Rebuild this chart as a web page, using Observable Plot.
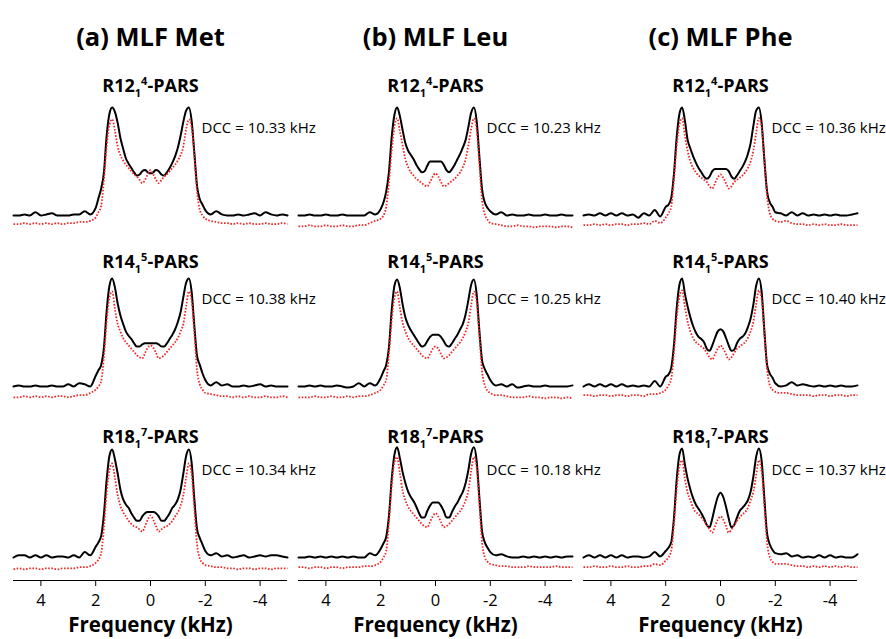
<!DOCTYPE html>
<html><head><meta charset="utf-8">
<script src="https://cdn.jsdelivr.net/npm/d3@7"></script>
<script src="https://cdn.jsdelivr.net/npm/@observablehq/plot@0.6"></script>
<style>body{margin:0;background:#fff}</style>
</head><body><div id="chart"></div>
<script>
// frequency grid (kHz)
const freq = [5.0,4.8,4.6,4.4,4.2,4.0,3.8,3.6,3.4,3.2,3.0,2.8,2.6,2.4,2.2,
  2.0,1.9,1.8,1.7,1.6,1.5,1.4,1.3,1.2,1.1,1.0,0.9,0.8,0.7,0.6,0.5,0.4,0.3,0.2,0.1,0.0,
  -0.1,-0.2,-0.3,-0.4,-0.5,-0.6,-0.7,-0.8,-0.9,-1.0,-1.1,-1.2,-1.3,-1.4,-1.5,-1.6,-1.7,-1.8,-1.9,-2.0,
  -2.2,-2.4,-2.6,-2.8,-3.0,-3.2,-3.4,-3.6,-3.8,-4.0,-4.2,-4.4,-4.6,-4.8,-5.0];

const columns = ["a","b","c"];
const columnTitles = ["(a) MLF Met","(b) MLF Leu","(c) MLF Phe"];
const rows = ["R12","R14","R18"];
const sequenceLabels = ["R12_1^4-PARS","R14_1^5-PARS","R18_1^7-PARS"];
const dccMet = [10.33,10.38,10.34];
const dccLeu = [10.23,10.25,10.18];
const dccPhe = [10.36,10.40,10.37];
const tickValues = [4,2,0,-2,-4];
const xLabel = "Frequency (kHz)";

// (a) MLF Met
const metR12Exp = [0.00,0.00,0.01,0.00,0.03,0.00,0.01,0.02,0.00,0.00,0.00,0.01,0.01,0.04,0.01,
  0.07,0.16,0.25,0.40,0.74,0.94,1.00,0.96,0.86,0.72,0.62,0.53,0.48,0.44,0.40,0.37,0.38,0.41,0.42,0.40,0.39,
  0.40,0.42,0.41,0.38,0.37,0.40,0.44,0.49,0.55,0.63,0.74,0.87,0.97,1.00,0.88,0.58,0.27,0.15,0.10,0.05,
  0.01,0.04,0.01,0.00,0.00,0.01,0.00,0.01,0.02,0.00,0.03,0.01,0.00,0.01,0.00];
const metR12Sim = [-0.08,-0.08,-0.07,-0.08,-0.07,-0.08,-0.07,-0.08,-0.07,-0.08,-0.07,-0.07,-0.06,-0.06,-0.05,
  -0.02,0.03,0.09,0.33,0.64,0.84,0.89,0.79,0.64,0.56,0.51,0.47,0.44,0.41,0.38,0.36,0.33,0.30,0.33,0.38,0.42,
  0.38,0.33,0.30,0.33,0.36,0.38,0.41,0.44,0.47,0.51,0.56,0.64,0.80,0.89,0.82,0.55,0.22,0.05,0.00,-0.03,
  -0.05,-0.06,-0.07,-0.07,-0.08,-0.07,-0.08,-0.07,-0.08,-0.08,-0.07,-0.08,-0.08,-0.07,-0.08];
const metR14Exp = [0.00,0.01,0.00,0.00,0.01,0.00,0.00,0.01,0.00,0.00,0.02,0.00,0.03,0.02,0.00,
  0.10,0.15,0.20,0.36,0.70,0.93,1.00,0.92,0.77,0.66,0.58,0.51,0.47,0.44,0.40,0.37,0.37,0.39,0.40,0.40,0.40,
  0.40,0.40,0.39,0.37,0.37,0.40,0.44,0.48,0.53,0.60,0.69,0.83,0.96,1.00,0.88,0.56,0.28,0.20,0.12,0.06,
  0.01,0.04,0.01,0.02,0.00,0.00,0.01,0.00,0.01,0.02,0.00,0.01,0.00,0.00,0.00];
const metR14Sim = [-0.10,-0.10,-0.09,-0.10,-0.09,-0.10,-0.09,-0.10,-0.09,-0.09,-0.10,-0.09,-0.08,-0.08,-0.06,
  -0.03,0.00,0.05,0.28,0.60,0.82,0.88,0.72,0.58,0.51,0.45,0.41,0.38,0.35,0.32,0.29,0.27,0.26,0.31,0.36,0.38,
  0.36,0.31,0.26,0.27,0.29,0.32,0.35,0.38,0.41,0.45,0.51,0.58,0.74,0.88,0.80,0.50,0.15,0.02,-0.03,-0.06,
  -0.07,-0.08,-0.09,-0.09,-0.10,-0.09,-0.10,-0.09,-0.10,-0.10,-0.09,-0.10,-0.10,-0.09,-0.10];
const metR18Exp = [0.00,0.02,0.02,0.00,0.02,0.00,0.02,0.00,0.01,0.01,0.00,0.02,0.00,0.05,0.02,
  0.10,0.14,0.20,0.40,0.72,0.94,1.00,0.91,0.78,0.63,0.54,0.49,0.46,0.41,0.37,0.34,0.34,0.38,0.41,0.42,0.42,
  0.42,0.41,0.38,0.34,0.34,0.37,0.41,0.46,0.49,0.54,0.63,0.78,0.94,1.00,0.88,0.54,0.26,0.18,0.12,0.06,
  0.02,0.04,0.01,0.02,0.00,0.01,0.02,0.00,0.01,0.02,0.01,0.02,0.02,0.01,0.00];
const metR18Sim = [-0.11,-0.10,-0.11,-0.10,-0.10,-0.11,-0.10,-0.10,-0.11,-0.10,-0.10,-0.10,-0.09,-0.09,-0.08,
  -0.05,-0.02,0.04,0.28,0.60,0.81,0.87,0.74,0.58,0.48,0.42,0.38,0.34,0.31,0.29,0.28,0.26,0.24,0.29,0.35,0.39,
  0.35,0.29,0.24,0.26,0.28,0.29,0.31,0.34,0.38,0.42,0.48,0.58,0.74,0.87,0.78,0.45,0.12,-0.01,-0.05,-0.07,
  -0.08,-0.09,-0.09,-0.10,-0.10,-0.11,-0.10,-0.10,-0.11,-0.10,-0.10,-0.11,-0.10,-0.10,-0.10];

// (b) MLF Leu
const leuR12Exp = [0.00,0.00,0.01,0.00,0.00,0.01,0.00,0.00,0.01,0.00,0.00,0.00,0.00,0.03,0.01,
  0.06,0.12,0.22,0.40,0.72,0.93,1.00,0.92,0.79,0.67,0.60,0.56,0.52,0.47,0.43,0.40,0.41,0.46,0.50,0.50,0.50,
  0.50,0.50,0.47,0.42,0.40,0.43,0.47,0.52,0.57,0.63,0.70,0.82,0.95,1.00,0.88,0.55,0.24,0.12,0.07,0.04,
  0.01,0.03,0.00,0.01,0.00,0.00,0.01,0.00,0.00,0.01,0.00,0.00,0.01,0.00,0.00];
const leuR12Sim = [-0.10,-0.10,-0.09,-0.10,-0.10,-0.09,-0.10,-0.10,-0.09,-0.10,-0.10,-0.09,-0.09,-0.07,-0.05,
  -0.03,0.00,0.08,0.30,0.60,0.82,0.90,0.78,0.65,0.52,0.45,0.40,0.37,0.34,0.32,0.30,0.28,0.27,0.31,0.36,0.39,
  0.36,0.31,0.27,0.28,0.30,0.32,0.34,0.37,0.40,0.45,0.52,0.65,0.80,0.90,0.80,0.48,0.14,0.01,-0.04,-0.07,
  -0.08,-0.09,-0.10,-0.10,-0.09,-0.10,-0.10,-0.11,-0.10,-0.10,-0.10,-0.11,-0.10,-0.10,-0.11];
const leuR14Exp = [0.00,0.00,0.01,0.00,0.01,0.00,0.00,0.01,0.00,-0.01,0.00,0.03,0.00,0.03,0.01,
  0.08,0.14,0.20,0.36,0.70,0.93,0.99,0.91,0.76,0.64,0.57,0.52,0.48,0.44,0.40,0.37,0.38,0.42,0.46,0.48,0.48,
  0.48,0.46,0.42,0.38,0.37,0.40,0.44,0.48,0.53,0.58,0.67,0.80,0.94,0.99,0.86,0.52,0.24,0.16,0.11,0.06,
  0.01,0.02,0.00,0.02,-0.01,0.00,0.01,0.00,0.00,0.01,0.00,0.00,0.00,0.00,0.01];
const leuR14Sim = [-0.10,-0.10,-0.10,-0.09,-0.10,-0.10,-0.09,-0.10,-0.10,-0.09,-0.10,-0.09,-0.09,-0.08,-0.06,
  -0.03,0.01,0.06,0.30,0.61,0.82,0.88,0.73,0.59,0.51,0.45,0.41,0.38,0.35,0.32,0.29,0.27,0.26,0.30,0.35,0.37,
  0.35,0.30,0.26,0.27,0.29,0.32,0.35,0.38,0.41,0.45,0.51,0.59,0.75,0.88,0.79,0.48,0.14,0.01,-0.04,-0.06,
  -0.08,-0.08,-0.09,-0.10,-0.10,-0.10,-0.09,-0.10,-0.10,-0.11,-0.10,-0.10,-0.11,-0.10,-0.11];
const leuR18Exp = [0.00,0.00,0.01,0.00,0.01,0.00,0.01,0.00,0.01,0.00,0.01,0.00,0.00,0.04,0.02,
  0.08,0.13,0.19,0.38,0.72,0.95,1.02,0.92,0.79,0.69,0.61,0.56,0.52,0.47,0.41,0.37,0.37,0.43,0.48,0.51,0.51,
  0.51,0.48,0.43,0.37,0.37,0.42,0.47,0.51,0.56,0.61,0.69,0.81,0.96,1.02,0.90,0.56,0.24,0.14,0.09,0.05,
  0.02,0.03,0.01,0.00,0.00,0.01,0.00,0.01,0.00,0.01,0.00,0.01,0.00,0.01,0.01];
const leuR18Sim = [-0.09,-0.09,-0.10,-0.09,-0.09,-0.10,-0.09,-0.09,-0.10,-0.09,-0.09,-0.09,-0.08,-0.08,-0.07,
  -0.04,0.00,0.06,0.32,0.66,0.88,0.93,0.78,0.62,0.53,0.47,0.43,0.40,0.37,0.34,0.31,0.29,0.28,0.33,0.38,0.41,
  0.38,0.33,0.28,0.29,0.31,0.34,0.37,0.40,0.43,0.47,0.53,0.62,0.80,0.93,0.84,0.50,0.14,0.00,-0.04,-0.06,
  -0.07,-0.08,-0.08,-0.09,-0.09,-0.09,-0.08,-0.09,-0.09,-0.09,-0.09,-0.08,-0.09,-0.09,-0.09];

// (c) MLF Phe
const pheR12Exp = [0.00,0.01,0.00,0.02,0.00,0.02,0.00,0.02,0.00,0.01,-0.02,0.02,0.00,0.05,-0.01,
  0.08,0.10,0.16,0.38,0.72,0.94,1.00,0.88,0.70,0.62,0.55,0.49,0.44,0.40,0.36,0.34,0.36,0.41,0.43,0.43,0.43,
  0.43,0.43,0.41,0.36,0.34,0.37,0.41,0.45,0.50,0.57,0.67,0.83,0.97,1.00,0.86,0.52,0.22,0.12,0.08,0.03,
  0.02,0.00,0.03,0.00,0.02,0.00,0.01,0.00,0.01,0.00,0.01,0.00,0.00,0.01,0.02];
const pheR12Sim = [-0.09,-0.09,-0.08,-0.09,-0.08,-0.09,-0.08,-0.08,-0.09,-0.08,-0.08,-0.07,-0.08,-0.05,-0.07,
  -0.02,0.02,0.08,0.33,0.64,0.84,0.90,0.74,0.60,0.50,0.44,0.40,0.37,0.35,0.33,0.31,0.27,0.25,0.30,0.35,0.38,
  0.35,0.30,0.25,0.27,0.31,0.33,0.35,0.37,0.40,0.44,0.50,0.60,0.76,0.90,0.82,0.52,0.18,0.02,-0.03,-0.05,
  -0.06,-0.05,-0.07,-0.08,-0.08,-0.09,-0.08,-0.09,-0.08,-0.09,-0.09,-0.08,-0.09,-0.09,-0.09];
const pheR14Exp = [0.00,0.02,0.00,0.02,0.00,0.02,0.00,0.02,0.00,0.01,0.00,0.01,0.00,0.05,0.00,
  0.09,0.11,0.17,0.38,0.72,0.94,1.00,0.86,0.74,0.64,0.56,0.50,0.46,0.44,0.41,0.35,0.33,0.38,0.45,0.51,0.53,
  0.51,0.45,0.38,0.33,0.34,0.40,0.44,0.46,0.49,0.55,0.63,0.76,0.93,1.00,0.88,0.52,0.20,0.12,0.08,0.03,
  0.00,0.01,0.04,0.01,0.02,0.01,0.00,0.01,0.00,0.01,0.00,0.01,0.00,0.00,0.01];
const pheR14Sim = [-0.08,-0.08,-0.09,-0.08,-0.08,-0.09,-0.08,-0.08,-0.09,-0.08,-0.08,-0.09,-0.07,-0.07,-0.06,
  -0.03,0.01,0.07,0.31,0.63,0.83,0.89,0.74,0.60,0.51,0.45,0.41,0.39,0.37,0.35,0.31,0.27,0.25,0.30,0.35,0.38,
  0.35,0.30,0.25,0.27,0.31,0.35,0.37,0.39,0.41,0.45,0.51,0.60,0.76,0.89,0.81,0.50,0.16,0.01,-0.03,-0.05,
  -0.06,-0.06,-0.07,-0.08,-0.08,-0.08,-0.09,-0.08,-0.08,-0.09,-0.08,-0.08,-0.09,-0.08,-0.08];
const pheR18Exp = [0.00,0.02,0.00,0.02,0.00,0.02,0.00,0.02,0.00,0.01,0.01,0.00,0.01,0.05,0.01,
  0.06,0.09,0.14,0.36,0.72,0.95,1.01,0.86,0.73,0.63,0.55,0.49,0.45,0.41,0.36,0.30,0.28,0.36,0.47,0.56,0.60,
  0.56,0.47,0.36,0.28,0.30,0.37,0.43,0.46,0.49,0.53,0.61,0.75,0.93,1.01,0.90,0.55,0.22,0.12,0.07,0.04,
  0.03,0.04,0.01,0.02,0.00,0.01,0.00,0.02,0.00,0.02,0.00,0.01,0.00,0.00,0.03];
const pheR18Sim = [-0.09,-0.09,-0.08,-0.09,-0.09,-0.08,-0.09,-0.09,-0.08,-0.09,-0.09,-0.08,-0.08,-0.06,-0.07,
  -0.03,0.00,0.06,0.30,0.63,0.84,0.90,0.73,0.60,0.53,0.46,0.42,0.40,0.37,0.34,0.30,0.26,0.23,0.29,0.35,0.38,
  0.35,0.29,0.23,0.26,0.30,0.34,0.37,0.40,0.42,0.46,0.53,0.61,0.76,0.90,0.80,0.48,0.14,0.00,-0.04,-0.06,
  -0.06,-0.06,-0.07,-0.08,-0.08,-0.09,-0.08,-0.09,-0.08,-0.09,-0.08,-0.09,-0.08,-0.09,-0.09];

const panels = [
  {col:"a", row:"R12", exp:metR12Exp, sim:metR12Sim, dcc:dccMet[0]},
  {col:"a", row:"R14", exp:metR14Exp, sim:metR14Sim, dcc:dccMet[1]},
  {col:"a", row:"R18", exp:metR18Exp, sim:metR18Sim, dcc:dccMet[2]},
  {col:"b", row:"R12", exp:leuR12Exp, sim:leuR12Sim, dcc:dccLeu[0]},
  {col:"b", row:"R14", exp:leuR14Exp, sim:leuR14Sim, dcc:dccLeu[1]},
  {col:"b", row:"R18", exp:leuR18Exp, sim:leuR18Sim, dcc:dccLeu[2]},
  {col:"c", row:"R12", exp:pheR12Exp, sim:pheR12Sim, dcc:dccPhe[0]},
  {col:"c", row:"R14", exp:pheR14Exp, sim:pheR14Sim, dcc:dccPhe[1]},
  {col:"c", row:"R18", exp:pheR18Exp, sim:pheR18Sim, dcc:dccPhe[2]}
];

const expPts = panels.flatMap(p => freq.map((f, i) => ({col:p.col, row:p.row, x:f, y:p.exp[i]})));
const simPts = panels.flatMap(p => freq.map((f, i) => ({col:p.col, row:p.row, x:f, y:p.sim[i]})));
const dccLabels = panels.map(p => ({col:p.col, row:p.row, text:`DCC = ${p.dcc.toFixed(2)} kHz`}));
const seqLabels = r => columns.map(c => ({col:c, row:rows[r], text:sequenceLabels[r]}));
const colTitleData = columns.map((c, i) => ({col:c, row:rows[0], text:columnTitles[i]}));
const xLabelData = columns.map(c => ({col:c, row:rows[2], text:xLabel}));
const yDomain = [-0.213, 1.37];
const axisLineData = columns.map(c => ({col:c, row:rows[2], y:yDomain[0]}));

const FONT = "Open Sans";
const plot = Plot.plot({
  width: 886, height: 639,
  marginTop: 67, marginBottom: 59, marginLeft: 12, marginRight: 29,
  style: {fontFamily: FONT, fontSize: "16.5px", color: "#000", background: "#fff"},
  fx: {domain: columns, axis: null, padding: 0.0403},
  fy: {domain: rows, axis: null, padding: 0},
  x: {domain: [5, -5], ticks: tickValues, tickSize: 6, tickPadding: 8, label: null, tickFormat: d => String(d)},
  y: {domain: yDomain, axis: null},
  marks: [
    Plot.ruleY(axisLineData, {fx:"col", fy:"row", y:"y", stroke:"#000", strokeWidth: 1}),
    Plot.line(expPts, {fx:"col", fy:"row", x:"x", y:"y", curve:"monotone-x", stroke:"#000", strokeWidth: 2}),
    Plot.line(simPts, {fx:"col", fy:"row", x:"x", y:"y", curve:"monotone-x", stroke:"#f02828", strokeWidth: 1.8, strokeDasharray: "1.6,1.6", strokeLinecap: "butt"}),
    Plot.text(colTitleData, {fx:"col", fy:"row", text:"text", frameAnchor:"top", dy:-40, fontSize: 25.5, fontWeight:"bold", fontFamily: FONT}),
    Plot.text(seqLabels(0), {fx:"col", fy:"row", text:"text", frameAnchor:"top", dy:12, fontSize: 18, fontWeight:"bold", fontFamily: FONT}),
    Plot.text(seqLabels(1), {fx:"col", fy:"row", text:"text", frameAnchor:"top", dy:17, fontSize: 18, fontWeight:"bold", fontFamily: FONT}),
    Plot.text(seqLabels(2), {fx:"col", fy:"row", text:"text", frameAnchor:"top", dy:21, fontSize: 18, fontWeight:"bold", fontFamily: FONT}),
    Plot.text(dccLabels, {fx:"col", fy:"row", text:"text", frameAnchor:"top-left", textAnchor:"start", dx:188, dy:55, fontSize: 15, fontFamily: FONT}),
    Plot.text(xLabelData, {fx:"col", fy:"row", text:"text", frameAnchor:"bottom", dy:51, fontSize: 20.5, fontWeight:"bold", fontFamily: FONT})
  ]
});

// sub/superscripts in the sequence labels
d3.select(plot).selectAll("text").each(function() {
  const m = /^(R\d+)_(\d)\^(\d)(-PARS)$/.exec(this.textContent);
  if (!m) return;
  const t = d3.select(this);
  t.text(null);
  t.append("tspan").text(m[1]);
  t.append("tspan").attr("font-size", 11).attr("dy", 5).text(m[2]);
  t.append("tspan").attr("font-size", 11).attr("dy", -12).text(m[3]);
  t.append("tspan").attr("dy", 7).text(m[4]);
});

document.getElementById("chart").appendChild(plot);
</script>
</body></html>
